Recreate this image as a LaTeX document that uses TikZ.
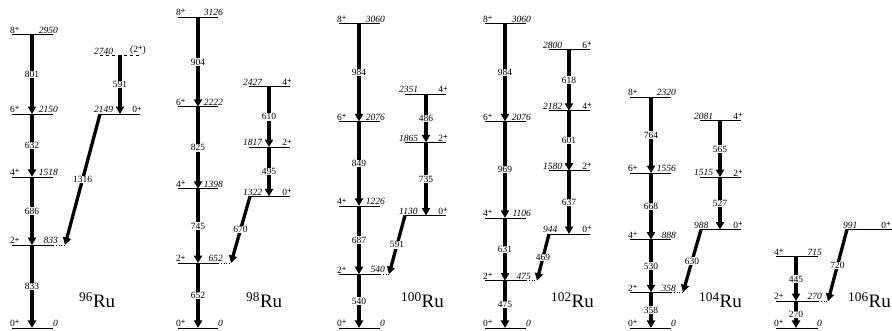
\documentclass[tikz,border=0pt]{standalone}
\usepackage{fontspec}
\setmainfont{Liberation Serif}
\usetikzlibrary{arrows.meta}

\begin{document}
\begin{tikzpicture}[x=1pt,y=0.0995pt,
  lev/.style={line width=0.8pt},
  ext/.style={line width=0.8pt,dotted},
  tr/.style={line width=3.3pt,-{Triangle[length=7.5pt,width=8pt]}},
  el/.style={fill=white,inner sep=0.5pt,font=\fontsize{9.5}{10}\selectfont},
  en/.style={inner sep=1pt,font=\fontsize{9.5}{10}\selectfont\itshape},
  spin/.style={inner sep=1pt,font=\fontsize{9.5}{10}\selectfont},
  nuc/.style={anchor=base west,inner sep=0pt,font=\fontsize{19}{20}\selectfont}
]
\useasboundingbox (0,-30) rectangle (892,3296);
\def\pl{\raisebox{0.4ex}{\fontsize{8}{8}\selectfont\bfseries +}}

% 96Ru
\foreach \E/\J in {0/0,833/2,1518/4,2150/6,2950/8}{
  \draw[lev] (12,\E) -- (53,\E);
  \node[spin,anchor=south west] (j96-\J) at (9,\E) {\J\pl};
  \node[en,anchor=south east] (e96-\J) at (59,\E) {\E};
  \coordinate (g96-\J) at (32,\E);
}
\draw[lev,dashed] (100,2740) -- (140,2740);
\node[en,anchor=south west] (e96-t) at (93,2740) {2740};
\node[spin,anchor=south east] (j96-t) at (147,2740) {(2\pl)};
\coordinate (h96-2) at (120,2740);
\draw[lev] (100,2149) -- (140,2149);
\node[en,anchor=south west] (e96-s) at (93,2149) {2149};
\node[spin,anchor=south east] (j96-s) at (143,2149) {0\pl};
\coordinate (h96-0) at (120,2149);
\coordinate (l96) at (100,2149);
\coordinate (x96) at (65,833);
\draw[ext] (53,833) -- (x96);
\draw[tr] (g96-8) -- node[el] (t801) {801} (g96-6);
\draw[tr] (g96-6) -- node[el] (t632) {632} (g96-4);
\draw[tr] (g96-4) -- node[el] (t686) {686} (g96-2);
\draw[tr] (g96-2) -- node[el] (t833) {833} (g96-0);
\draw[tr] (h96-2) -- node[el] (t591a) {591} (h96-0);
\draw[tr] (l96) -- node[el] (t1316) {1316} (x96);
\node[nuc] (n96) at (79,201) {\textsuperscript{96}Ru};

% 98Ru
\foreach \E/\J in {0/0,652/2,1398/4,2222/6,3126/8}{
  \draw[lev] (178,\E) -- (218,\E);
  \node[spin,anchor=south west] (j98-\J) at (175,\E) {\J\pl};
  \node[en,anchor=south east] (e98-\J) at (224,\E) {\E};
  \coordinate (g98-\J) at (198,\E);
}
\foreach \E/\J in {1322/0,1817/2,2427/4}{
  \draw[lev,line width=1.2pt] (249,\E) -- (290,\E);
  \node[en,anchor=south west] (e98s-\J) at (242,\E) {\E};
  \node[spin,anchor=south east] (j98s-\J) at (293,\E) {\J\pl};
  \coordinate (h98-\J) at (269,\E);
}
\coordinate (l98) at (250,1322);
\coordinate (x98) at (231,652);
\draw[ext] (218,652) -- (x98);
\draw[tr] (g98-8) -- node[el] (t904) {904} (g98-6);
\draw[tr] (g98-6) -- node[el] (t825) {825} (g98-4);
\draw[tr] (g98-4) -- node[el] (t745) {745} (g98-2);
\draw[tr] (g98-2) -- node[el] (t652) {652} (g98-0);
\draw[tr] (h98-4) -- node[el] (t610) {610} (h98-2);
\draw[tr] (h98-2) -- node[el] (t495) {495} (h98-0);
\draw[tr] (l98) -- node[el] (t670) {670} (x98);
\node[nuc] (n98) at (246,201) {\textsuperscript{98}Ru};

% 100Ru
\foreach \E/\J in {0/0,540/2,1226/4,2076/6,3060/8}{
  \draw[lev] (339,\E) -- (380,\E);
  \node[spin,anchor=south west] (j100-\J) at (336,\E) {\J\pl};
  \node[en,anchor=south east] (e100-\J) at (386,\E) {\E};
  \coordinate (g100-\J) at (359,\E);
}
\foreach \E/\J in {1130/0,1865/2,2351/4}{
  \draw[lev] (405,\E) -- (446,\E);
  \node[en,anchor=south west] (e100s-\J) at (398,\E) {\E};
  \node[spin,anchor=south east] (j100s-\J) at (449,\E) {\J\pl};
  \coordinate (h100-\J) at (426,\E);
}
\coordinate (l100) at (405,1130);
\coordinate (x100) at (389,540);
\draw[ext] (380,540) -- (x100);
\draw[tr] (g100-8) -- node[el] (t984a) {984} (g100-6);
\draw[tr] (g100-6) -- node[el] (t849) {849} (g100-4);
\draw[tr] (g100-4) -- node[el] (t687) {687} (g100-2);
\draw[tr] (g100-2) -- node[el] (t540) {540} (g100-0);
\draw[tr] (h100-4) -- node[el] (t486) {486} (h100-2);
\draw[tr] (h100-2) -- node[el] (t735) {735} (h100-0);
\draw[tr] (l100) -- node[el] (t591b) {591} (x100);
\node[nuc] (n100) at (401,201) {\textsuperscript{100}Ru};

% 102Ru
\foreach \E/\J in {0/0,475/2,1106/4,2076/6,3060/8}{
  \draw[lev] (485,\E) -- (526,\E);
  \node[spin,anchor=south west] (j102-\J) at (482,\E) {\J\pl};
  \node[en,anchor=south east] (e102-\J) at (532,\E) {\E};
  \coordinate (g102-\J) at (505,\E);
}
\foreach \E/\J in {944/0,1580/2,2182/4,2800/6}{
  \draw[lev] (549,\E) -- (590,\E);
  \node[en,anchor=south west] (e102s-\J) at (542,\E) {\E};
  \node[spin,anchor=south east] (j102s-\J) at (593,\E) {\J\pl};
  \coordinate (h102-\J) at (569,\E);
}
\coordinate (l102) at (549,944);
\coordinate (x102) at (537,475);
\draw[ext] (526,475) -- (x102);
\draw[tr] (g102-8) -- node[el] (t984b) {984} (g102-6);
\draw[tr] (g102-6) -- node[el] (t969) {969} (g102-4);
\draw[tr] (g102-4) -- node[el] (t631) {631} (g102-2);
\draw[tr] (g102-2) -- node[el] (t475) {475} (g102-0);
\draw[tr] (h102-6) -- node[el] (t618) {618} (h102-4);
\draw[tr] (h102-4) -- node[el] (t601) {601} (h102-2);
\draw[tr] (h102-2) -- node[el] (t637) {637} (h102-0);
\draw[tr] (l102) -- node[el] (t469) {469} (x102);
\node[nuc] (n102) at (551,201) {\textsuperscript{102}Ru};

% 104Ru
\foreach \E/\J in {0/0,358/2,888/4,1556/6,2320/8}{
  \draw[lev] (630,\E) -- (671,\E);
  \node[spin,anchor=south west] (j104-\J) at (627,\E) {\J\pl};
  \node[en,anchor=south east] (e104-\J) at (677,\E) {\E};
  \coordinate (g104-\J) at (651,\E);
}
\foreach \E/\J in {988/0,1515/2,2081/4}{
  \draw[lev] (700,\E) -- (741,\E);
  \node[en,anchor=south west] (e104s-\J) at (693,\E) {\E};
  \node[spin,anchor=south east] (j104s-\J) at (744,\E) {\J\pl};
  \coordinate (h104-\J) at (720,\E);
}
\coordinate (l104) at (701,988);
\coordinate (x104) at (683,358);
\draw[ext] (671,358) -- (x104);
\draw[tr] (g104-8) -- node[el] (t764) {764} (g104-6);
\draw[tr] (g104-6) -- node[el] (t668) {668} (g104-4);
\draw[tr] (g104-4) -- node[el] (t530) {530} (g104-2);
\draw[tr] (g104-2) -- node[el] (t358) {358} (g104-0);
\draw[tr] (h104-4) -- node[el] (t565) {565} (h104-2);
\draw[tr] (h104-2) -- node[el] (t527) {527} (h104-0);
\draw[tr] (l104) -- node[el] (t630) {630} (x104);
\node[nuc] (n104) at (699,201) {\textsuperscript{104}Ru};

% 106Ru
\foreach \E/\J in {0/0,270/2,715/4}{
  \draw[lev] (776,\E) -- (818,\E);
  \node[spin,anchor=south west] (j106-\J) at (773,\E) {\J\pl};
  \node[en,anchor=south east] (e106-\J) at (823,\E) {\E};
  \coordinate (g106-\J) at (796,\E);
}
\draw[lev] (847,991) -- (892,991);
\node[en,anchor=south west] (e106s-0) at (842,991) {991};
\node[spin,anchor=south east] (j106s-0) at (892,991) {0\pl};
\coordinate (l106) at (847,991);
\coordinate (x106) at (828,270);
\draw[ext] (818,270) -- (x106);
\draw[tr] (g106-4) -- node[el] (t445) {445} (g106-2);
\draw[tr] (g106-2) -- node[el] (t270) {270} (g106-0);
\draw[tr] (l106) -- node[el] (t720) {720} (x106);
\node[nuc] (n106) at (848,201) {\textsuperscript{106}Ru};
\end{tikzpicture}
\end{document}
